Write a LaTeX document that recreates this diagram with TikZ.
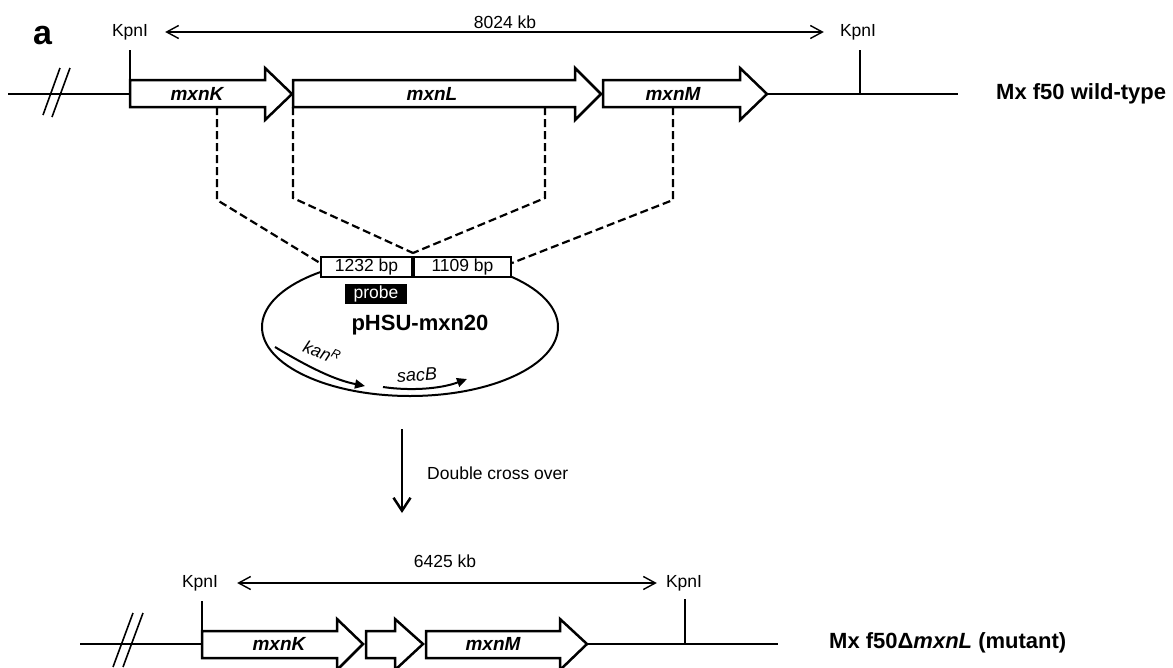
\documentclass[tikz,border=0pt]{standalone}
\usepackage{fontspec}
\setmainfont{Liberation Sans}
\usetikzlibrary{arrows.meta,calc}

\tikzset{
  dna/.style={line width=2.5pt},
  gene/.style={line width=2.5pt, fill=white, line join=miter},
  slash/.style={line width=1.6pt},
  dim/.style={line width=1.4pt, {Straight Barb[length=12pt,width=13pt]}-{Straight Barb[length=12pt,width=13pt]}},
  homol/.style={line width=2.2pt, dash pattern=on 8pt off 4pt},
  lbl/.style={font=\fontsize{17.5}{20}\selectfont, inner sep=2pt},
  glbl/.style={font=\fontsize{19}{22}\selectfont\bfseries\itshape, inner sep=0pt},
  strain/.style={font=\fontsize{22}{26}\selectfont\bfseries, anchor=west, inner sep=0pt},
  frag/.style={draw, line width=2pt, fill=white, minimum height=20pt, inner sep=0pt, font=\fontsize{17.5}{20}\selectfont},
  marker/.style={line width=2pt, -{Triangle[length=10pt,width=9pt]}}
}

\begin{document}
\begin{tikzpicture}[x=1pt,y=-1pt]
\useasboundingbox (0,0) rectangle (1173,667);
\node[font=\fontsize{34}{38}\selectfont\bfseries, inner sep=0pt] (panel) at (42.5,36) {a};

% wild-type locus
\draw[dna] (8,94)--(130,94); \draw[dna] (767,94)--(958,94);
\draw[dna] (130,50)--(130,94); \draw[dna] (860,50)--(860,94);
\draw[slash] (60,68)--(43,115); \draw[slash] (70,68)--(52,117);
\draw[gene] (130,80)--(265,80)--(265,68)--(292,94)--(265,120)--(265,107)--(130,107)--cycle;
\draw[gene] (293,80)--(575,80)--(575,68)--(601,94)--(575,120)--(575,107)--(293,107)--cycle;
\draw[gene] (603,80)--(740,80)--(740,68)--(767,94)--(740,120)--(740,107)--(603,107)--cycle;
\node[glbl] (gK) at (197,94) {mxnK};
\node[glbl] (gL) at (432,94) {mxnL};
\node[glbl] (gM) at (673,94) {mxnM};
\node[lbl] (kpnA) at (130,32) {KpnI};
\node[lbl] (kpnB) at (858,32) {KpnI};
\draw[dim, shorten <=15pt, shorten >=14pt] (kpnA) -- (kpnB);
\node[lbl] (lenA) at (505,22) {8024 kb};
\node[strain] (wt) at (996,94) {Mx f50 wild-type};

% plasmid
\draw[line width=2pt] (410,327) ellipse [x radius=148, y radius=69];
\node[frag, minimum width=91pt, anchor=north west] (fragL) at (320,256) {1232 bp};
\node[frag, minimum width=97pt, anchor=west] (fragR) at (fragL.east) {1109 bp};
\node[fill=black, text=white, minimum width=62pt, minimum height=20pt, inner sep=0pt, font=\fontsize{17.5}{20}\selectfont] (probe) at (376,294) {probe};
\node[font=\fontsize{22}{26}\selectfont\bfseries, inner sep=0pt] (plas) at (420,325) {pHSU-mxn20};
\draw[marker] (275,347) .. controls (310,368) and (335,380) .. (365,386);
\draw[marker] (383,387) .. controls (410,391) and (440,389) .. (467,379);
\node[lbl, font=\fontsize{17.5}{20}\selectfont\itshape, rotate=-22] (kan) at (322,352) {kan\textsuperscript{R}};
\node[lbl, font=\fontsize{18}{20}\selectfont\itshape, rotate=4] (sac) at (417,375) {sacB};

% homologous regions
\coordinate (X) at ($(fragL.north east)+(0,-3)$);
\draw[homol] (217,107) -- (217,200) -- ([yshift=4pt]fragL.west);
\draw[homol] (293,107) -- (293,198) -- (X);
\draw[homol] (545,107) -- (545,198) -- (X);
\draw[homol] (673,107) -- (673,200) -- ([yshift=4pt]fragR.east);

% recombination
\coordinate (dA) at (402,429); \coordinate (dB) at (402,513);
\draw[line width=2.5pt, -{Straight Barb[length=13pt,width=17pt]}] (dA) -- (dB);
\node[lbl, anchor=west] (dco) at (425,473) {Double cross over};

% mutant locus
\draw[dna] (80,644)--(202,644); \draw[dna] (587,644)--(778,644);
\draw[dna] (202,601)--(202,644); \draw[dna] (685,599)--(685,644);
\draw[slash] (133,613)--(113,667); \draw[slash] (143,613)--(123,667);
\draw[gene] (202,631)--(337,631)--(337,619)--(363,644)--(337,670)--(337,658)--(202,658)--cycle;
\draw[gene] (366,631)--(395,631)--(395,619)--(423,644)--(395,670)--(395,658)--(366,658)--cycle;
\draw[gene] (426,631)--(560,631)--(560,619)--(587,644)--(560,670)--(560,658)--(426,658)--cycle;
\node[glbl] (gK2) at (279,644) {mxnK};
\node[glbl] (gM2) at (493,644) {mxnM};
\node[lbl] (kpnC) at (200,583) {KpnI};
\node[lbl] (kpnD) at (684,583) {KpnI};
\draw[dim, shorten <=17pt, shorten >=7pt] (kpnC) -- (kpnD);
\node[lbl] (lenB) at (445,561) {6425 kb};
\node[strain] (mut) at (829,643) {Mx f50Δ\textit{mxnL} (mutant)};
\end{tikzpicture}
\end{document}
